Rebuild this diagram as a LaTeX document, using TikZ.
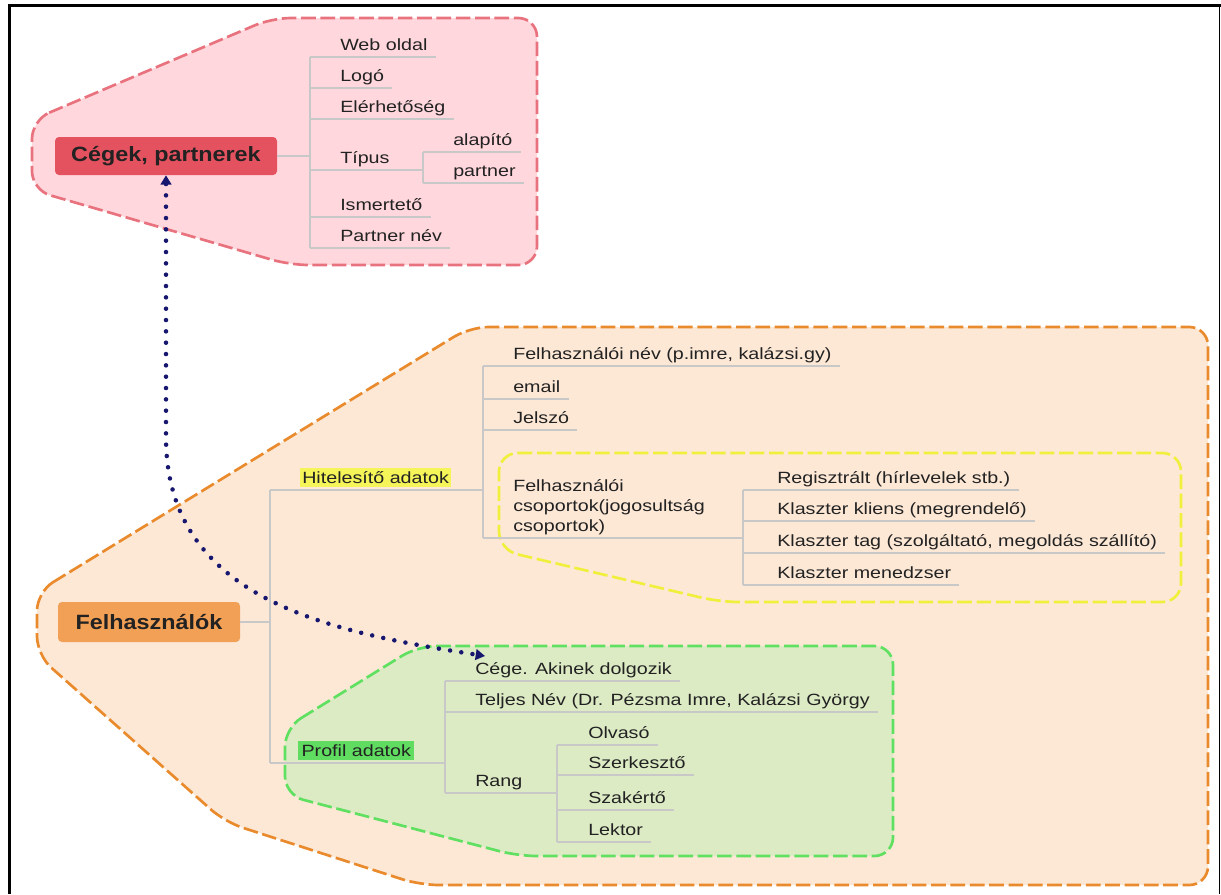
\documentclass[tikz,border=0pt]{standalone}
\usepackage{fontspec}
\setmainfont{Liberation Sans}[FakeStretch=1.21]
\newfontfamily\headfam{Liberation Sans}[FakeStretch=1.13]
\usetikzlibrary{arrows.meta}
\definecolor{redfill}{HTML}{FFD7DC}
\definecolor{redline}{HTML}{E8737E}
\definecolor{rednode}{HTML}{E5525F}
\definecolor{orfill}{HTML}{FDE8D6}
\definecolor{orline}{HTML}{E98A2C}
\definecolor{ornode}{HTML}{F2A055}
\definecolor{yeline}{HTML}{F0F03C}
\definecolor{yemark}{HTML}{F5F55A}
\definecolor{grfill}{HTML}{DDEBC5}
\definecolor{grline}{HTML}{60E060}
\definecolor{grmark}{HTML}{60DC60}
\definecolor{branchc}{HTML}{C8C8C8}
\definecolor{linkc}{HTML}{17176F}
\definecolor{textc}{HTML}{222222}
\newcommand\topicsize{\fontsize{12.2pt}{15pt}\selectfont}
\newcommand\headsize{\headfam\bfseries\fontsize{15.5pt}{18pt}\selectfont}
\begin{document}
\begin{tikzpicture}[x=0.75pt,y=-0.75pt,
  blob/.style={line width=2pt,dash pattern=on 11pt off 3.5pt,rounded corners=14pt},
  topic/.style={anchor=south west,inner xsep=6pt,inner ysep=4.5pt,text depth=0pt,text=textc,font=\topicsize,align=left},
  branch/.style={draw=branchc,line width=0.8pt},
  head/.style={rounded corners=3pt,minimum height=29pt,font=\headsize,text=textc},
  hilite/.style={anchor=base west,inner xsep=1.5pt,inner ysep=1.25pt,outer ysep=2.25pt,text height=10pt,text depth=1.75pt,font=\topicsize,text=textc},
  link/.style={draw=linkc,line width=3.4pt,line cap=round,dash pattern=on 0pt off 8.5pt,arrows={Triangle[length=7pt,width=8pt]-Triangle[length=7pt,width=8pt]}}]
\useasboundingbox (0,0) rectangle (1221,894);
\draw[line width=2.2pt] (9.5,894) -- (9.5,5.5) -- (1221,5.5);
\draw[line width=1pt] (1219.5,5.5) -- (1219.5,894);
% areas
\filldraw[blob,fill=orfill,draw=orline] (37,592) -- (470,327) -- (1208,327) -- (1208,885) -- (420,885) -- (225,822) -- (37,655) -- cycle;
\filldraw[blob,fill=orfill,draw=yeline] (499,453) -- (1181,453) -- (1181,602) -- (720,602) -- (499,550) -- cycle;
\filldraw[blob,fill=grfill,draw=grline] (285,728) -- (418,646) -- (893,646) -- (893,856) -- (518,856) -- (285,795) -- cycle;
\filldraw[blob,fill=redfill,draw=redline] (32,120) -- (272,18) -- (537,18) -- (537,265) -- (290,265) -- (32,190) -- cycle;

% Cegek
\node[head,fill=rednode,minimum width=166.5pt,minimum height=28.5pt] (cegek) at (166,156) {Cégek, partnerek};
\coordinate (ct) at (310,0);
\coordinate (tt) at (423,0);
\node[topic] (web) at (332,57) {Web oldal};
\node[topic] (logo) at (332,88) {Logó};
\node[topic] (elerh) at (332,119) {Elérhetőség};
\node[topic] (tipus) at (332,170) {Típus};
\node[topic] (ismert) at (332,217) {Ismertető};
\node[topic] (pnev) at (332,248) {Partner név};
\node[topic] (alap) at (445,152) {alapító};
\node[topic] (partn) at (445,183) {partner};
\draw[branch] (cegek.east) -- (ct |- cegek.east);
\draw[branch] (ct |- web.south) -- (ct |- pnev.south);
\foreach \n in {web,logo,elerh,ismert,pnev}
  \draw[branch] (ct |- \n.south) -- (\n.south east);
\draw[branch] (ct |- tipus.south) -- (tt |- tipus.south);
\draw[branch] (tt |- alap.south) -- (tt |- partn.south);
\foreach \n in {alap,partn}
  \draw[branch] (tt |- \n.south) -- (\n.south east);

% Felhasznalok
\node[head,fill=ornode,minimum width=136.5pt,minimum height=30pt] (felh) at (149,622) {Felhasználók};
\coordinate (ot) at (270,0);
\coordinate (h1) at (483,0);
\coordinate (h2) at (743,0);
\coordinate (h3) at (445,0);
\coordinate (h4) at (557,0);
\node[hilite,fill=yemark] (hitel) at (300,483) {Hitelesítő adatok};
\node[hilite,fill=grmark,inner xsep=2.5pt] (profil) at (298,756) {Profil adatok};
\node[topic] (fnev) at (505,366) {Felhasználói név (p.imre, kalázsi.gy)};
\node[topic] (email) at (505,399) {email};
\node[topic] (jelszo) at (505,430) {Jelszó};
\node[topic] (csop) at (505,538) {Felhasználói\\csoportok(jogosultság\\csoportok)};
\node[topic] (reg) at (769,490) {Regisztrált (hírlevelek stb.)};
\node[topic] (kliens) at (769,521) {Klaszter kliens (megrendelő)};
\node[topic] (ktag) at (769,553) {Klaszter tag (szolgáltató, megoldás szállító)};
\node[topic] (menedz) at (769,585) {Klaszter menedzser};
\node[topic] (cege) at (467,681) {Cége. Akinek dolgozik};
\node[topic] (teljes) at (467,712) {Teljes Név (Dr. Pézsma Imre, Kalázsi György};
\node[topic] (rang) at (467,793) {Rang};
\node[topic] (olvaso) at (580,745) {Olvasó};
\node[topic] (szerk) at (580,775) {Szerkesztő};
\node[topic] (szak) at (580,810) {Szakértő};
\node[topic] (lektor) at (580,842) {Lektor};
\draw[branch] (felh.east) -- (ot |- felh.east);
\draw[branch] (ot |- hitel.south) -- (ot |- profil.south);
\draw[branch] (ot |- hitel.south) -- (h1 |- hitel.south);
\draw[branch] (ot |- profil.south) -- (h3 |- profil.south);
\draw[branch] (h1 |- fnev.south) -- (h1 |- csop.south);
\foreach \n in {fnev,email,jelszo}
  \draw[branch] (h1 |- \n.south) -- (\n.south east);
\draw[branch] (h1 |- csop.south) -- (h2 |- csop.south);
\draw[branch] (h2 |- reg.south) -- (h2 |- menedz.south);
\foreach \n in {reg,kliens,ktag,menedz}
  \draw[branch] (h2 |- \n.south) -- (\n.south east);
\draw[branch] (h3 |- cege.south) -- (h3 |- rang.south);
\foreach \n in {cege,teljes}
  \draw[branch] (h3 |- \n.south) -- (\n.south east);
\draw[branch] (h3 |- rang.south) -- (h4 |- rang.south);
\draw[branch] (h4 |- olvaso.south) -- (h4 |- lektor.south);
\foreach \n in {olvaso,szerk,szak,lektor}
  \draw[branch] (h4 |- \n.south) -- (\n.south east);

% link
\coordinate (bend) at (165,440);
\coordinate (cegetip) at (485,656);
\draw[link] (cegek.south) -- (cegek.south |- bend) .. controls (168,600) and (330,632) .. (cegetip);
\end{tikzpicture}
\end{document}
